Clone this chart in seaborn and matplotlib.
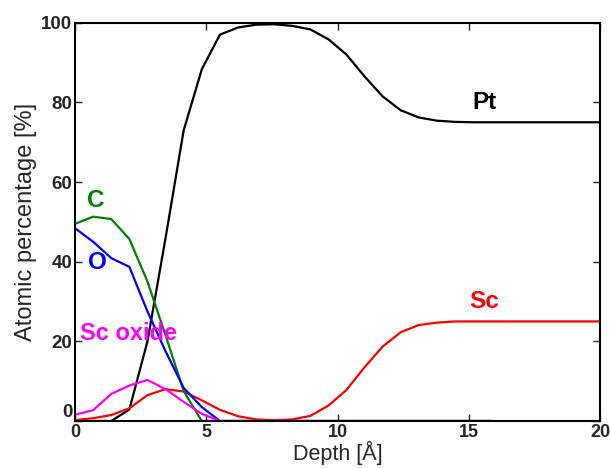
import numpy as np
import pandas as pd
import seaborn as sns
import matplotlib
matplotlib.use("Agg")
import matplotlib.pyplot as plt

# depth grid in Angstrom
depth = [0.0, 0.69, 1.38, 2.07, 2.76, 3.45, 4.14, 4.83, 5.52, 6.21,
         6.90, 7.59, 8.28, 8.97, 9.66, 10.34, 11.03, 11.72, 12.41, 13.10,
         13.79, 14.48, 15.17, 15.86, 16.55, 17.24, 17.93, 18.62, 19.31, 20.0]

nan = np.nan
pt = [0.0, 0.0, 0.0, 2.9, 20.0, 46.0, 73.0, 88.3, 97.0, 98.8,
      99.5, 99.6, 99.2, 98.3, 95.8, 92.0, 86.5, 81.5, 78.0, 76.2,
      75.4, 75.1, 75.0, 75.0, 75.0, 75.0, 75.0, 75.0, 75.0, 75.0]
sc = [0.2, 0.7, 1.5, 3.2, 6.5, 8.0, 7.4, 5.2, 2.8, 1.2,
      0.4, 0.2, 0.4, 1.3, 3.9, 7.8, 13.5, 18.7, 22.3, 24.1,
      24.7, 25.0, 25.0, 25.0, 25.0, 25.0, 25.0, 25.0, 25.0, 25.0]
carbon = [49.5, 51.3, 50.7, 45.7, 35.0, 21.5, 7.5, 0.0, 0.0, 0.0,
          0.0, 0.0, 0.0, 0.0, 0.0, 0.0, 0.0, 0.0, 0.0, 0.0,
          0.0, 0.0, 0.0, 0.0, nan, nan, nan, nan, nan, nan]
oxygen = [48.4, 45.0, 40.9, 38.7, 27.5, 17.5, 8.3, 3.5, 0.0, 0.0,
          0.0, 0.0, 0.0, 0.0, 0.0, 0.0, 0.0, 0.0, 0.0, 0.0,
          0.0, 0.0, 0.0, 0.0, nan, nan, nan, nan, nan, nan]
sc_oxide = [1.6, 2.7, 6.8, 8.9, 10.3, 8.0, 4.8, 1.8, 0.0, 0.0,
            0.0, 0.0, 0.0, 0.0, 0.0, 0.0, 0.0, 0.0, 0.0, 0.0,
            0.0, 0.0, 0.0, 0.0, nan, nan, nan, nan, nan, nan]

series = {"Pt": pt, "Sc": sc, "C": carbon, "O": oxygen, "Sc oxide": sc_oxide}
colors = {"Pt": "black", "Sc": "#ff0000", "C": "#008000",
          "O": "#0000ff", "Sc oxide": "#ff00ff"}

frames = [pd.DataFrame({"depth": depth, "value": v, "element": k})
          for k, v in series.items()]
df = pd.concat(frames).dropna()

sns.set_style("ticks")
plt.rcParams["font.family"] = ["Liberation Sans", "DejaVu Sans"]

fig = plt.figure(figsize=(6.11, 4.68), dpi=100)
ax = fig.add_axes([0.1228, 0.1004, 0.8592, 0.8511])

sns.lineplot(data=df, x="depth", y="value", hue="element", palette=colors,
             linewidth=1.6, legend=False, ax=ax, sort=False, estimator=None)

ax.set_xlim(0, 20)
ax.set_ylim(0, 100)
ax.set_xticks([0, 5, 10, 15, 20])
ax.set_yticks([0, 20, 40, 60, 80, 100])
ax.tick_params(direction="in", top=True, right=True, length=5, width=1,
               labelsize=13.5)
ax.tick_params(axis="x", pad=2, labelsize=13)
ax.tick_params(axis="y", pad=2)
for lab in ax.get_xticklabels() + ax.get_yticklabels():
    lab.set_fontweight("bold")
# lift the y "0" so it sits above the x "0"
ax.get_yticklabels()[0].set_verticalalignment("bottom")
for sp in ax.spines.values():
    sp.set_visible(True)
    sp.set_linewidth(1.5)
    sp.set_color("black")

ax.set_xlabel("Depth [Å]", fontsize=15.5, labelpad=0)
ax.set_ylabel("Atomic percentage [%]", fontsize=17, labelpad=3)

lab_kw = dict(fontsize=17.5, fontweight="bold")
ax.text(0.8, 55.3, "C", color=colors["C"], ha="center", va="center", **lab_kw)
ax.text(0.84, 39.7, "O", color=colors["O"], ha="center", va="center", **lab_kw)
ax.text(0.2, 22.0, "Sc oxide", color=colors["Sc oxide"], ha="left",
        va="center", fontsize=17, fontweight="bold")
ax.text(15.6, 80.0, "Pt", color="black", ha="center", va="center", **lab_kw)
ax.text(15.6, 30.0, "Sc", color=colors["Sc"], ha="center", va="center", **lab_kw)

fig.savefig("out.png", dpi=100)
